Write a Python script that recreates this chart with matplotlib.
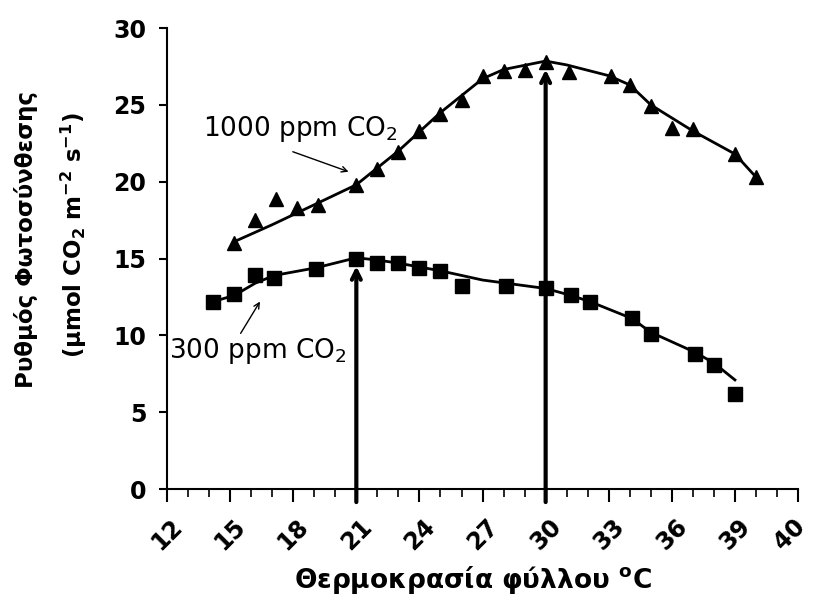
import matplotlib
matplotlib.use("Agg")
import matplotlib.pyplot as plt
import matplotlib.transforms as mtransforms

plt.rcParams['font.family'] = ['DejaVu Sans']
plt.rcParams['mathtext.fontset'] = 'dejavusans'

# 1000 ppm CO2 (triangles)
t_hi = [15.2, 16.2, 17.2, 18.2, 19.2, 21, 22, 23, 24, 25, 26, 27, 28, 29, 30, 31.1, 33.1, 34, 35, 36, 37, 39, 40]
p_hi = [16.0, 17.5, 18.9, 18.3, 18.5, 19.8, 20.8, 21.9, 23.3, 24.4, 25.3, 26.9, 27.2, 27.3, 27.8, 27.15, 26.9, 26.3, 24.9, 23.5, 23.4, 21.8, 20.3]
# hand-drawn trend line for 1000 ppm
fit_hi_t = [15.2, 17, 19, 21, 23, 25, 27, 28, 30, 31, 33, 34, 35, 37, 39, 40]
fit_hi_p = [16.1, 17.2, 18.5, 19.8, 22.0, 24.5, 26.7, 27.3, 27.85, 27.6, 26.9, 26.3, 25.0, 23.3, 21.8, 20.3]

# 300 ppm CO2 (squares)
t_lo = [14.2, 15.2, 16.2, 17.1, 19.1, 21, 22, 23, 24, 25, 26, 28.1, 30, 31.2, 32.1, 34.1, 35, 37.1, 38, 39]
p_lo = [12.2, 12.7, 13.9, 13.7, 14.3, 15.0, 14.7, 14.7, 14.4, 14.2, 13.2, 13.2, 13.05, 12.6, 12.2, 11.1, 10.1, 8.8, 8.1, 6.2]
fit_lo_t = [14.2, 15.2, 16.2, 17.1, 19.1, 21, 22, 23, 25, 27, 30, 31.2, 32.1, 34.1, 35, 37.1, 38, 39]
fit_lo_p = [12.2, 12.6, 13.4, 13.9, 14.4, 15.05, 14.9, 14.7, 14.2, 13.6, 13.05, 12.6, 12.2, 11.1, 10.2, 8.9, 8.2, 7.1]

# optimum temperatures (vertical arrows)
opt_t = [21, 30]
opt_p = [14.5, 27.3]

x_ticks = [12, 15, 18, 21, 24, 27, 30, 33, 36, 39, 42]
x_labels = ['12', '15', '18', '21', '24', '27', '30', '33', '36', '39', '40']
y_ticks = [0, 5, 10, 15, 20, 25, 30]

fig = plt.figure(figsize=(8.14, 6.08), dpi=100)
ax = fig.add_axes([0.2052, 0.1957, 0.7752, 0.7582])

ax.plot(fit_hi_t, fit_hi_p, color='black', lw=2)
ax.plot(fit_lo_t, fit_lo_p, color='black', lw=2)
ax.plot(t_hi, p_hi, linestyle='none', marker='^', color='black', markersize=10.5)
ax.plot(t_lo, p_lo, linestyle='none', marker='s', color='black', markersize=9.5)

for t, p in zip(opt_t, opt_p):
    ax.annotate('', xy=(t, p), xytext=(t, -0.85), annotation_clip=False,
                arrowprops=dict(arrowstyle='->', color='black', lw=3, mutation_scale=16,
                                shrinkA=0, shrinkB=0))

ax.text(13.7, 23.4, '1000 ppm CO$_2$', fontsize=19, ha='left', va='center')
ax.annotate('', xy=(20.63, 20.65), xytext=(17.98, 21.95),
            arrowprops=dict(arrowstyle='->', color='black', lw=1, shrinkA=0, shrinkB=0))
ax.text(12.1, 9.0, '300 ppm CO$_2$', fontsize=19, ha='left', va='center')
ax.annotate('', xy=(16.42, 12.2), xytext=(15.5, 10.13),
            arrowprops=dict(arrowstyle='->', color='black', lw=1, shrinkA=0, shrinkB=0))

ax.set_xlim(12, 42)
ax.set_ylim(0, 30)
ax.spines['top'].set_visible(False)
ax.spines['right'].set_visible(False)
for s in ['left', 'bottom']:
    ax.spines[s].set_linewidth(1.5)

ax.set_xticks(x_ticks)
ax.set_xticklabels(x_labels, rotation=45, ha='center', va='top', fontsize=17, fontweight='bold')
ax.set_xticks(range(12, 43), minor=True)
ax.tick_params(axis='x', which='major', length=9.5, width=1.5, direction='out', pad=9)
ax.tick_params(axis='x', which='minor', length=6, width=1.2, direction='out')
ax.set_yticks(y_ticks)
ax.set_yticklabels([str(v) for v in y_ticks], fontsize=17, fontweight='bold')
ax.tick_params(axis='y', which='major', length=6, width=1.5, direction='out', pad=9)

# shift last x label a little to the left
last = ax.get_xticklabels()[-1]
last.set_transform(last.get_transform() + mtransforms.ScaledTranslation(-8 / 100, 0, fig.dpi_scale_trans))

fig.text(473 / 814, 1 - 580 / 608, 'Θερμοκρασία φύλλου $^{\\mathbf{o}}$C', fontsize=19,
         fontweight='bold', ha='center', va='center')
fig.text(26 / 814, 1 - 240 / 608, 'Ρυθμός Φωτοσύνθεσης', fontsize=16.5, fontweight='bold',
         rotation=90, ha='center', va='center')
fig.text(74 / 814, 1 - 235 / 608,
         '(μmol CO$_\\mathbf{2}$ m$^{\\mathbf{-2}}$ s$^{\\mathbf{-1}}$)', fontsize=16.5,
         fontweight='bold', rotation=90, ha='center', va='center')

fig.savefig('out.png', dpi=100, facecolor='white')
